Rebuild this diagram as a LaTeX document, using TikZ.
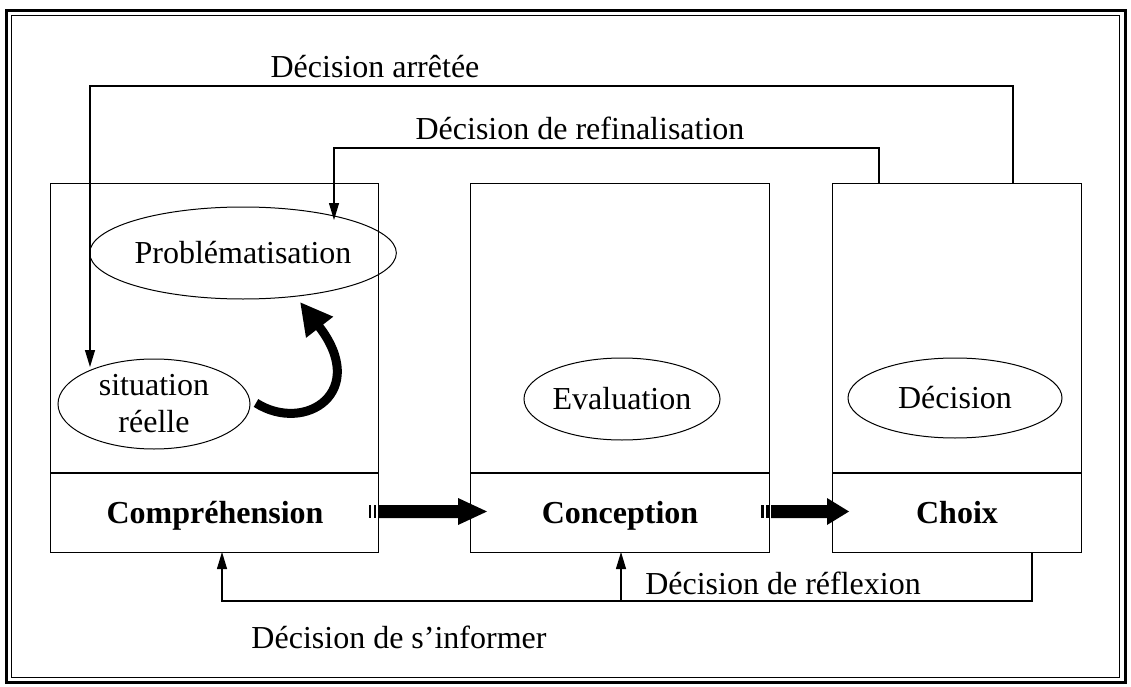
\documentclass[tikz,border=0pt]{standalone}
\usepackage{fontspec}
\setmainfont{Liberation Serif}
\usetikzlibrary{arrows.meta,shapes.geometric}
\begin{document}
\begin{tikzpicture}[x=1pt,y=-1pt,
  box/.style={draw, line width=1.2pt, inner sep=0pt, anchor=north west},
  ell/.style={draw, ellipse, line width=1pt, inner sep=0pt, font=\fontsize{32}{36}\selectfont, align=center},
  lbl/.style={font=\fontsize{32}{36}\selectfont, inner sep=0pt, anchor=base},
  blbl/.style={font=\fontsize{32}{36}\selectfont\bfseries, inner sep=0pt, anchor=base},
  conn/.style={line width=1.1pt, -{Triangle[length=17pt,width=10pt]}},
  plain/.style={line width=1.2pt},
  fat/.style={fill=black, draw=none}]
\useasboundingbox (0,0) rectangle (1131,687);
% frame
\draw[line width=3pt] (6,11) rectangle (1125,682);
\draw[line width=1pt] (11,16) rectangle (1119,677);
% boxes
\node[box, minimum width=328pt, minimum height=369pt] (comp) at (50,183) {};
\node[box, minimum width=299pt, minimum height=369pt] (conc) at (470,183) {};
\node[box, minimum width=249pt, minimum height=369pt] (choix) at (832,183) {};
\draw[plain] (50,473) -- (378,473);
\draw[plain] (470,473) -- (769,473);
\draw[plain] (832,473) -- (1081,473);
% labels in bottom band
\node[blbl] (lcomp) at (215,523) {Compréhension};
\node[blbl] (lconc) at (620,523) {Conception};
\node[blbl] (lchoix) at (957,523) {Choix};
% ellipses
\node[ell, minimum width=258pt, minimum height=92pt] (prob) at (243,253) {Problématisation};
\node[ell, minimum width=192pt, minimum height=90pt, font=\fontsize{32}{37}\selectfont] (sit) at (154,404) {situation\\réelle};
\node[ell, minimum width=150pt, minimum height=82pt] (eval) at (622,399) {Evaluation};
\node[ell, minimum width=214pt, minimum height=80pt] (dec) at (955,398) {Décision};
% connector coordinates
\coordinate (arS) at (1013,183);
\coordinate (arT) at (90,367);
\coordinate (rfS) at (879,183);
\coordinate (rfT) at (334,220);
\coordinate (bS) at (1032,552);
\coordinate (bT1) at (222,552);
\coordinate (bT2) at (621,552);
\coordinate (bJ) at (621,601);
\draw[conn] (arS) -- (1013,86) -- (90,86) -- (arT);
\draw[conn] (rfS) -- (879,148) -- (334,148) -- (rfT);
\draw[conn] (bS) -- (1032,601) -- (222,601) -- (bT1);
\draw[conn] (bJ) -- (bT2);
% connector labels
\node[lbl] (tar) at (375,78) {Décision arrêtée};
\node[lbl] (trf) at (580,140) {Décision de refinalisation};
\node[lbl] (trx) at (783,594) {Décision de réflexion};
\node[lbl] (tif) at (399,648) {Décision de s’informer};
% thick striped arrows
\fill[fat] (368.5,505) rectangle (371,518);
\fill[fat] (373.5,505) rectangle (376,518);
\fill[fat] (378.5,505) -- (458,505) -- (458,498) -- (487,511.5) -- (458,525) -- (458,518) -- (378.5,518) -- cycle;
\fill[fat] (761,505) rectangle (763.5,518);
\fill[fat] (766,505) rectangle (768.5,518);
\fill[fat] (771,505) -- (827,505) -- (827,498) -- (849,511.5) -- (827,525) -- (827,518) -- (771,518) -- cycle;
% curved thick arrow
\coordinate (cS) at (256,403);
\coordinate (cT) at (300,302);
\draw[line width=9pt, -{Triangle[length=32pt,width=32pt]}] (cS) .. controls (305,434) and (370,392) .. (cT);
\end{tikzpicture}
\end{document}
